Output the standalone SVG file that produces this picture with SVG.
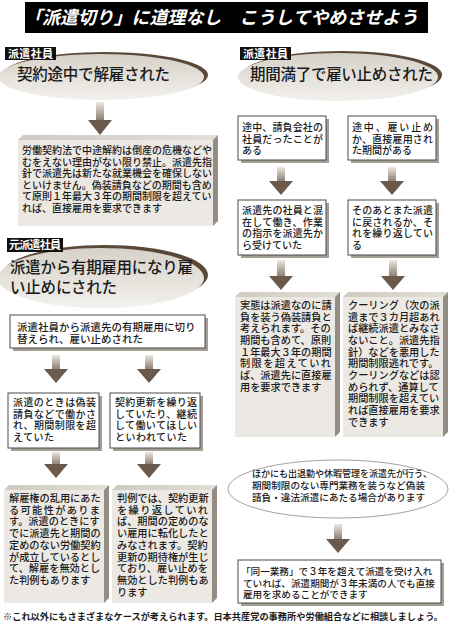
<svg xmlns="http://www.w3.org/2000/svg" width="450" height="627" viewBox="0 0 450 627">
<defs>
<linearGradient id="shaft" x1="0" y1="0" x2="0" y2="1"><stop offset="0" stop-color="#ebe6df"/><stop offset="1" stop-color="#8a7b6c"/></linearGradient>
<linearGradient id="ell" x1="0" y1="0" x2="0" y2="1"><stop offset="0" stop-color="#d6d1c8"/><stop offset="1" stop-color="#f3f1ed"/></linearGradient>
<linearGradient id="topf" x1="0" y1="0" x2="1" y2="0"><stop offset="0" stop-color="#cfcac2"/><stop offset="1" stop-color="#e2ded8"/></linearGradient>
<style>
text{font-family:"Liberation Sans","Noto Sans CJK JP","Noto Sans CJK SC",sans-serif;fill:#1a1a1a}
.t{font-size:10px;font-weight:500}
.t3{font-size:10.2px;font-weight:500}
.h{font-size:15.5px;font-weight:500}
.lbl{font-size:11px;font-weight:700;fill:#fff}
.lblbg{fill:#111}
.face{fill:#ece9e4}
.topf{fill:url(#topf)}
.side{fill:#948d83}
.box{fill:#fff;stroke:#4a4a4a;stroke-width:1}
.shd{fill:#a59e94}
.rim{fill:#5a4838}
.ell{fill:url(#ell)}
.sh{fill:url(#shaft)}
.hd{fill:#6b5a4b}
</style>
</defs>

<g id="title">
<rect x="25" y="2" width="403" height="31" fill="#000"/>
<text x="24" y="24" font-size="18" font-weight="700" font-style="italic" style="fill:#fff" textLength="394" lengthAdjust="spacingAndGlyphs">「派遣切り」に道理なし　こうしてやめさせよう</text>
</g>

<g id="connectors">
<rect class="sh" x="96" y="102" width="8" height="19"/><polygon class="hd" points="88,120 112,120 100,135"/>
<rect class="sh" x="277" y="167" width="8" height="15"/><polygon class="hd" points="269,181 293,181 281,195"/>
<rect class="sh" x="388" y="167" width="8" height="15"/><polygon class="hd" points="380,181 404,181 392,195"/>
<rect class="sh" x="277" y="260" width="8" height="17"/><polygon class="hd" points="269,276 293,276 281,290"/>
<rect class="sh" x="389" y="260" width="8" height="17"/><polygon class="hd" points="381,276 405,276 393,290"/>
<rect class="sh" x="52" y="355" width="8" height="15"/><polygon class="hd" points="44,369 68,369 56,383"/>
<rect class="sh" x="145" y="355" width="8" height="15"/><polygon class="hd" points="137,369 161,369 149,383"/>
<rect class="sh" x="52" y="452" width="8" height="13"/><polygon class="hd" points="44,464 68,464 56,478"/>
<rect class="sh" x="145" y="452" width="8" height="13"/><polygon class="hd" points="137,464 161,464 149,478"/>
<rect class="sh" x="334" y="524" width="8" height="16"/><polygon class="hd" points="326,539 350,539 338,553"/>
</g>

<g id="head1">
<ellipse class="rim" cx="105" cy="75" rx="103" ry="23"/>
<ellipse class="ell" cx="101" cy="77" rx="103" ry="23"/>
<rect class="lblbg" x="5" y="47" width="51" height="13"/>
<text class="lbl" x="8" y="57.5" textLength="45">派遣社員</text>
<text class="h" x="17" y="80" textLength="153">契約途中で解雇された</text>
</g>

<g id="box1">
<polygon class="topf" points="18,140 23,135 218,135 213,140"/>
<polygon class="side" points="213,140 218,135 218,221 213,226"/>
<rect class="face" x="18" y="140" width="195" height="86"/>
<text class="t" x="22" y="154">労働契約法で中途解約は倒産の危機などや</text>
<text class="t" x="22" y="165.6">むをえない理由がない限り禁止。派遣先指</text>
<text class="t" x="22" y="177.2">針で派遣先は新たな就業機会を確保しない</text>
<text class="t" x="22" y="188.8">といけません。偽装請負などの期間も含め</text>
<text class="t" x="22" y="200.4">て原則１年最大３年の期間制限を超えてい</text>
<text class="t" x="22" y="212">れば、直接雇用を要求できます</text>
</g>

<g id="head2">
<ellipse class="rim" cx="105" cy="275" rx="103" ry="30"/>
<ellipse class="ell" cx="101" cy="278" rx="103" ry="30"/>
<rect class="lblbg" x="7" y="238" width="56" height="14"/>
<text class="lbl" x="9" y="249" textLength="52">元派遣社員</text>
<text class="h" x="10" y="273" textLength="183">派遣から有期雇用になり雇</text>
<text class="h" x="10" y="293" textLength="107">い止めにされた</text>
</g>

<g id="box2">
<rect class="shd" x="13" y="318" width="195" height="33"/>
<rect class="box" x="10" y="315" width="195" height="33"/>
<text class="t" x="17" y="330.5" style="font-size:10.5px">派遣社員から派遣先の有期雇用に切り</text>
<text class="t" x="17" y="342.5" style="font-size:10.5px">替えられ、雇い止めされた</text>
</g>

<g id="box3">
<rect class="shd" x="11" y="396" width="91" height="55"/>
<rect class="box" x="8" y="393" width="91" height="55"/>
<text class="t" x="13" y="406" textLength="83">派遣のときは偽装</text>
<text class="t" x="13" y="417.6" textLength="83">請負などで働かさ</text>
<text class="t" x="13" y="429.2" textLength="83">れ、期間制限を超</text>
<text class="t" x="13" y="440.8" textLength="41">えていた</text>
</g>

<g id="box4">
<rect class="shd" x="113" y="396" width="90" height="55"/>
<rect class="box" x="110" y="393" width="90" height="55"/>
<text class="t" x="115" y="406" textLength="82">契約更新を繰り返</text>
<text class="t" x="115" y="417.6" textLength="82">していたり、継続</text>
<text class="t" x="115" y="429.2" textLength="82">して働いてほしい</text>
<text class="t" x="115" y="440.8" textLength="72">といわれていた</text>
</g>

<g id="box5">
<polygon class="topf" points="4,490 9,485 109,485 104,490"/>
<polygon class="side" points="104,490 109,485 109,598 104,603"/>
<rect class="face" x="4" y="490" width="100" height="113"/>
<text class="t3" x="9" y="502">解雇権の乱用にあた</text>
<text class="t3" x="9" y="513.7" textLength="91">る可能性がありま</text>
<text class="t3" x="9" y="525.4">す。派遣のときにす</text>
<text class="t3" x="9" y="537.1">でに派遣先と期間の</text>
<text class="t3" x="9" y="548.8">定めのない労働契約</text>
<text class="t3" x="9" y="560.5">が成立しているとし</text>
<text class="t3" x="9" y="572.2">て、解雇を無効とし</text>
<text class="t3" x="9" y="583.9">た判例もあります</text>
</g>

<g id="box6">
<polygon class="topf" points="112,490 117,485 217,485 212,490"/>
<polygon class="side" points="212,490 217,485 217,598 212,603"/>
<rect class="face" x="112" y="490" width="100" height="113"/>
<text class="t3" x="117" y="502">判例では、契約更新</text>
<text class="t3" x="117" y="513.7" textLength="91">を繰り返していれ</text>
<text class="t3" x="117" y="525.4">ば、期間の定めのな</text>
<text class="t3" x="117" y="537.1">い雇用に転化したと</text>
<text class="t3" x="117" y="548.8">みなされます。契約</text>
<text class="t3" x="117" y="560.5">更新の期待権が生じ</text>
<text class="t3" x="117" y="572.2">ており、雇い止めを</text>
<text class="t3" x="117" y="583.9">無効とした判例もあ</text>
<text class="t3" x="117" y="595.6">ります</text>
</g>

<g id="head3">
<ellipse class="rim" cx="342" cy="75" rx="100" ry="24"/>
<ellipse class="ell" cx="338" cy="77" rx="100" ry="24"/>
<rect class="lblbg" x="240" y="47" width="51" height="13"/>
<text class="lbl" x="243" y="57.5" textLength="45">派遣社員</text>
<text class="h" x="250" y="80" textLength="183">期間満了で雇い止めされた</text>
</g>

<g id="box7">
<rect class="shd" x="241" y="119" width="88" height="44"/>
<rect class="box" x="238" y="116" width="88" height="44"/>
<text class="t" x="242" y="131" textLength="81">途中、請負会社の</text>
<text class="t" x="242" y="142.6" textLength="81">社員だったことが</text>
<text class="t" x="242" y="154.2">ある</text>
</g>

<g id="box8">
<rect class="shd" x="351" y="119" width="88" height="44"/>
<rect class="box" x="348" y="116" width="88" height="44"/>
<text class="t" x="352" y="131" textLength="81">途中、雇い止め</text>
<text class="t" x="352" y="142.6" textLength="81">か、直接雇用され</text>
<text class="t" x="352" y="154.2">た期間がある</text>
</g>

<g id="box9">
<rect class="shd" x="241" y="203" width="88" height="55"/>
<rect class="box" x="238" y="200" width="88" height="55"/>
<text class="t" x="242" y="214" textLength="81">派遣先の社員と混</text>
<text class="t" x="242" y="225.6" textLength="81">在して働き、作業</text>
<text class="t" x="242" y="237.2" textLength="81">の指示を派遣先か</text>
<text class="t" x="242" y="248.8">ら受けていた</text>
</g>

<g id="box10">
<rect class="shd" x="351" y="203" width="88" height="55"/>
<rect class="box" x="348" y="200" width="88" height="55"/>
<text class="t" x="352" y="214" textLength="81">そのあとまた派遣</text>
<text class="t" x="352" y="225.6" textLength="81">に戻されるか、そ</text>
<text class="t" x="352" y="237.2" textLength="81">れを繰り返してい</text>
<text class="t" x="352" y="248.8">る</text>
</g>

<g id="box11">
<polygon class="topf" points="235,297 240,292 340,292 335,297"/>
<polygon class="side" points="335,297 340,292 340,432 335,437"/>
<rect class="face" x="235" y="297" width="100" height="140"/>
<text class="t3" x="240" y="308.8">実態は派遣なのに請</text>
<text class="t3" x="240" y="320.5">負を装う偽装請負と</text>
<text class="t3" x="240" y="332.2">考えられます。その</text>
<text class="t3" x="240" y="343.9">期間も含めて、原則</text>
<text class="t3" x="240" y="355.6">１年最大３年の期間</text>
<text class="t3" x="240" y="367.3" textLength="91">制限を超えていれ</text>
<text class="t3" x="240" y="379">ば、派遣先に直接雇</text>
<text class="t3" x="240" y="390.7">用を要求できます</text>
</g>

<g id="box12">
<polygon class="topf" points="343,297 348,292 448,292 443,297"/>
<polygon class="side" points="443,297 448,292 448,432 443,437"/>
<rect class="face" x="343" y="297" width="100" height="140"/>
<text class="t3" x="348" y="308.8">クーリング（次の派</text>
<text class="t3" x="348" y="320.5">遣まで３カ月超あれ</text>
<text class="t3" x="348" y="332.2">ば継続派遣とみなさ</text>
<text class="t3" x="348" y="343.9">ないこと。派遣先指</text>
<text class="t3" x="348" y="355.6">針）などを悪用した</text>
<text class="t3" x="348" y="367.3">期間制限逃れです。</text>
<text class="t3" x="348" y="379">クーリングなどは認</text>
<text class="t3" x="348" y="390.7">められず、通算して</text>
<text class="t3" x="348" y="402.4">期間制限を超えてい</text>
<text class="t3" x="348" y="414.1">れば直接雇用を要求</text>
<text class="t3" x="348" y="425.8">できます</text>
</g>

<g id="note">
<ellipse cx="338" cy="489" rx="110" ry="29" fill="#fff" stroke="#8a8a8a" stroke-width="0.8"/>
<text x="252" y="477" font-size="9.6" font-weight="500" textLength="180" lengthAdjust="spacingAndGlyphs">ほかにも出退勤や休暇管理を派遣先が行う、</text>
<text x="252" y="489" font-size="9.6" font-weight="500" textLength="173">期間制限のない専門業務を装うなど偽装</text>
<text x="252" y="501" font-size="9.6" font-weight="500" textLength="173">請負・違法派遣にあたる場合があります</text>
</g>

<g id="box13">
<rect class="shd" x="241" y="563" width="203" height="43"/>
<rect class="box" x="238" y="560" width="203" height="43"/>
<text class="t" x="241" y="575" style="font-size:9.6px">「同一業務」で３年を超えて派遣を受け入れ</text>
<text class="t" x="243" y="586.5" style="font-size:9.6px">ていれば、派遣期間が３年未満の人でも直接</text>
<text class="t" x="243" y="598" style="font-size:9.6px">雇用を求めることができます</text>
</g>

<g id="footer">
<text x="3" y="620" font-size="9.1" font-weight="700" textLength="440" lengthAdjust="spacingAndGlyphs">※これ以外にもさまざまなケースが考えられます。日本共産党の事務所や労働組合などに相談しましょう。</text>
</g>
</svg>
